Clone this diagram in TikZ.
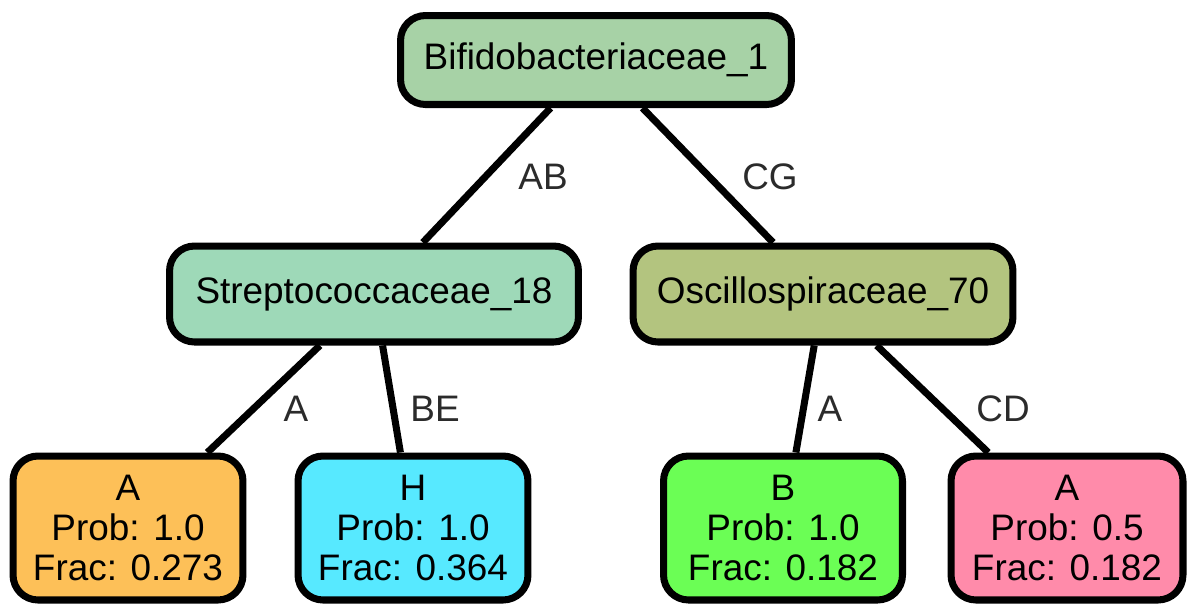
\documentclass[tikz,border=0pt]{standalone}
\usepackage{fontspec}
\setmainfont{Liberation Sans}
\usepackage{xcolor}
\usetikzlibrary{positioning, backgrounds}

\definecolor{rootgreen}{HTML}{A7D2A6}
\definecolor{strepgreen}{HTML}{9ED9B8}
\definecolor{oscolive}{HTML}{B3C47F}
\definecolor{leaforange}{HTML}{FDC058}
\definecolor{leafcyan}{HTML}{57E9FF}
\definecolor{leafgreen}{HTML}{6BFE55}
\definecolor{leafpink}{HTML}{FF8BAA}
\definecolor{labelgray}{HTML}{2B2B2B}

\begin{document}
\begin{tikzpicture}[
    x=0.02cm, y=-0.02cm,
    taxon/.style={rectangle, rounded corners=0.5cm, draw=black, line width=4pt,
                  minimum height=1.9cm, inner sep=2pt,
                  font=\fontsize{21}{23}\selectfont},
    leaf/.style={taxon, minimum height=2.88cm, align=center},
    edgelabel/.style={font=\fontsize{21}{23}\selectfont, text=labelgray, inner sep=1pt},
    branch/.style={line width=4pt, black},
]

\useasboundingbox (0,0) rectangle (1197,613);

% Root
\node[taxon, fill=rootgreen, minimum width=7.82cm, minimum height=1.78cm] (bifido) at (596,60) {Bifidobacteriaceae\_1};

% Inner nodes
\node[taxon, fill=strepgreen, minimum width=8.18cm, minimum height=1.92cm] (strep) at (374,294) {Streptococcaceae\_18};
\node[taxon, fill=oscolive, minimum width=7.6cm, minimum height=1.92cm] (oscillo) at (823,294) {Oscillospiraceae\_70};

% Leaves
\node[leaf, fill=leaforange, minimum width=4.6cm] (leafA) at (128,528) {A\\Prob: 1.0\\Frac: 0.273};
\node[leaf, fill=leafcyan, minimum width=4.6cm] (leafH) at (413,528) {H\\Prob: 1.0\\Frac: 0.364};
\node[leaf, fill=leafgreen, minimum width=4.78cm] (leafB) at (783,528) {B\\Prob: 1.0\\Frac: 0.182};
\node[leaf, fill=leafpink, minimum width=4.64cm] (leafApink) at (1067,528) {A\\Prob: 0.5\\Frac: 0.182};

% Branches
\foreach \a/\b in {bifido/strep, bifido/oscillo, strep/leafA, strep/leafH, oscillo/leafB, oscillo/leafApink} {
    \draw[branch] (\a) -- (\b);
}

% Branch labels
\node[edgelabel] (labAB) at (543,177) {AB};
\node[edgelabel] (labCG) at (770,177) {CG};
\node[edgelabel] (labA1) at (296,409) {A};
\node[edgelabel] (labBE) at (435,409) {BE};
\node[edgelabel] (labA2) at (830,409) {A};
\node[edgelabel] (labCD) at (1003,409) {CD};

\end{tikzpicture}
\end{document}
